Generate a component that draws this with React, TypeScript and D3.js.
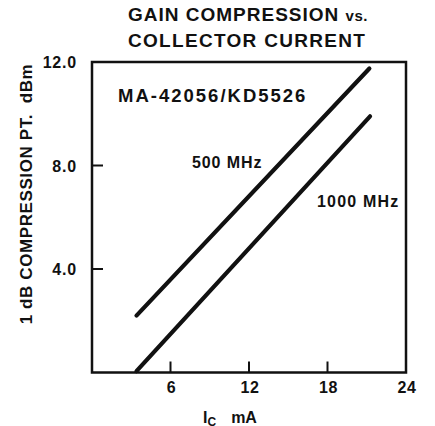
import React from "react";
import * as d3 from "d3";

const title = ["GAIN COMPRESSION", "vs.", "COLLECTOR CURRENT"];
const deviceLabel = "MA-42056/KD5526";
const xTicks = [6, 12, 18, 24];
const yTicks = [4.0, 8.0, 12.0];
const xLabel = "mA";
const yLabel = "1 dB COMPRESSION PT.\u00A0\u00A0dBm";

const series500 = { name: "500 MHz", pts: [ [3.4, 2.2], [21.2, 11.75] ] as [number, number][] };
const series1000 = { name: "1000 MHz", pts: [ [3.4, 0.05], [21.25, 9.9] ] as [number, number][] };

const W = 435, H = 426;
const L = 92, R = 406, T = 62, B = 372.5;

export default function App() {
  const x = d3.scaleLinear().domain([0, 24]).range([L, R]);
  const y = d3.scaleLinear().domain([0, 12]).range([B, T]);
  const line = d3.line<[number, number]>().x(d => x(d[0])).y(d => y(d[1]));
  const font = "'Liberation Sans', Arial, Helvetica, sans-serif";
  const ink = "#111";
  return (
    <svg width={W} height={H} style={{ position: "absolute", left: 0, top: 0, background: "#fff" }} fontFamily={font}>
      <rect x={0} y={0} width={W} height={H} fill="#fff" />
      <text x={128} y={21} fontSize={19} fontWeight="bold" fill={ink} letterSpacing={1}>
        {title[0]} <tspan fontSize={15} letterSpacing={0.5}>{title[1]}</tspan>
      </text>
      <text x={128} y={47} fontSize={19} fontWeight="bold" fill={ink} letterSpacing={1.3}>{title[2]}</text>
      {/* frame */}
      <rect x={L} y={T} width={R - L} height={B - T} fill="none" stroke={ink} strokeWidth={2.5} />
      {/* y ticks */}
      {yTicks.map(t => (
        <g key={"y" + t}>
          {t < 12 && <line x1={L} x2={L + 11} y1={y(t)} y2={y(t)} stroke={ink} strokeWidth={2} />}
          <text x={77} y={y(t) + 6} textAnchor="end" fontSize={16} fontWeight="bold" fill={ink} letterSpacing={0.8}>{t.toFixed(1)}</text>
        </g>
      ))}
      {/* x ticks */}
      {xTicks.map(t => (
        <g key={"x" + t}>
          {t < 24 && <line x1={x(t)} x2={x(t)} y1={B} y2={B - 11} stroke={ink} strokeWidth={2} />}
          <text x={x(t) + 1} y={393} textAnchor="middle" fontSize={16} fontWeight="bold" fill={ink} letterSpacing={0.5}>{t}</text>
        </g>
      ))}
      {/* axis titles */}
      <text x={203} y={422.5} fontSize={16} fontWeight="bold" fill={ink}>
        I<tspan fontSize={12} dy={3}>C</tspan><tspan dy={-3} dx={15}>{xLabel}</tspan>
      </text>
      <text transform={`translate(32,194) rotate(-90)`} textAnchor="middle" fontSize={17} fontWeight="bold" fill={ink} letterSpacing={0.6}>{yLabel}</text>
      {/* series */}
      <path d={line(series500.pts) || ""} fill="none" stroke={ink} strokeWidth={4.2} strokeLinecap="round" />
      <path d={line(series1000.pts) || ""} fill="none" stroke={ink} strokeWidth={4.2} strokeLinecap="round" />
      <text x={118} y={102} fontSize={18.5} fontWeight="bold" fill={ink} letterSpacing={2}>{deviceLabel}</text>
      <text x={192} y={168} fontSize={16} fontWeight="bold" fill={ink} letterSpacing={0.9}>{series500.name}</text>
      <text x={317} y={207} fontSize={16} fontWeight="bold" fill={ink} letterSpacing={1.2}>{series1000.name}</text>
    </svg>
  );
}
